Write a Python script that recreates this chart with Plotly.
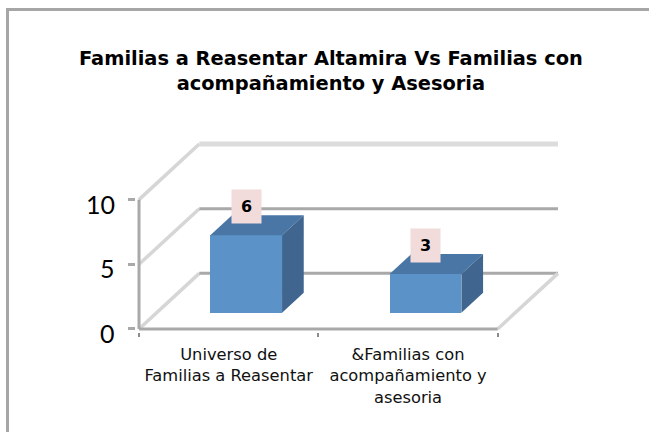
import plotly.graph_objects as go

categories = ["Universo de<br>Familias a Reasentar", "&Familias con<br>acompañamiento y<br>asesoria"]
values = [6, 3]
y_ticks = [0, 5, 10]
title_text = "<b>Familias a Reasentar Altamira Vs Familias con<br>acompañamiento y Asesoria</b>"

W, H = 649, 432
PAD = 3
L, R, T, B = 139 - PAD, 558 + PAD, 144 - PAD, 329 + PAD
UX = 178.5   # pixels per category
UY = 12.9    # pixels per value unit
DEPTH_X = 60 / UX
DEPTH_Y = 55.5 / UY
PX, PY = PAD / UX, PAD / UY
BAR_W = 0.4
D0, D1 = 0.29, 0.65
N = len(categories)
GRID = "#a9a9a9"
LIGHT = "#d6d6d6"

fig = go.Figure()

def line(xs, ys, color, width):
    fig.add_trace(go.Scatter(x=xs, y=ys, mode="lines", line=dict(color=color, width=width),
                             hoverinfo="skip", showlegend=False))

def poly(xs, ys, color):
    fig.add_trace(go.Scatter(x=xs + xs[:1], y=ys + ys[:1], mode="lines", fill="toself", fillcolor=color,
                             line=dict(width=0), hoverinfo="skip", showlegend=False, xaxis="x2", yaxis="y2"))

top = y_ticks[-1]
for v in y_ticks:
    line([0, DEPTH_X], [v, v + DEPTH_Y], LIGHT, 3.5)
for v in y_ticks:
    line([DEPTH_X, N + DEPTH_X], [v + DEPTH_Y] * 2, "#dcdcdc" if v == top else GRID, 5 if v == top else 3)
line([N, N + DEPTH_X], [0, DEPTH_Y], LIGHT, 3.5)
line([0, 0], [0, top], GRID, 3)
line([0, N], [0, 0], GRID, 3)

for i, v in enumerate(values):
    c = i + 0.5
    fx0 = c - BAR_W / 2 + D0 * DEPTH_X
    fx1 = c + BAR_W / 2 + D0 * DEPTH_X
    base = D0 * DEPTH_Y
    dx = (D1 - D0) * DEPTH_X
    dy = (D1 - D0) * DEPTH_Y
    poly([fx0, fx1, fx1 + dx, fx0 + dx], [base + v, base + v, base + v + dy, base + v + dy], "#4a76a6")
    poly([fx1, fx1 + dx, fx1 + dx, fx1], [base, base + dy, base + v + dy, base + v], "#40668f")

fig.add_trace(go.Bar(x=[i + 0.5 + D0 * DEPTH_X for i in range(N)], y=values,
                     base=[D0 * DEPTH_Y] * N, width=BAR_W, marker=dict(color="#5b93c8", line=dict(width=0)),
                     hoverinfo="skip", showlegend=False, xaxis="x2", yaxis="y2"))

annotations = [dict(x=i + 0.5 + D0 * DEPTH_X, y=v + D0 * DEPTH_Y, xref="x2", yref="y2", text=f"<b>{v}</b>",
                    showarrow=False, yshift=29, bgcolor="#f2dcdb", width=27, height=31,
                    font=dict(family="DejaVu Sans", size=16, color="black"))
               for i, v in enumerate(values)]
annotations.append(dict(x=(331 - L) / (R - L), y=(B - 71) / (B - T), xref="paper", yref="paper",
                        text=title_text, showarrow=False, yanchor="middle", xanchor="center",
                        font=dict(family="DejaVu Sans", size=19.4, color="black")))
# y tick labels sit a few pixels below their ticks, as in the reference
annotations += [dict(x=(117 - L) / (R - L), y=v, xref="paper", yref="y", text=str(v), showarrow=False,
                     xanchor="right", yanchor="middle", yshift=-4,
                     font=dict(family="Lato", size=25, color="black")) for v in y_ticks]

xrange = [-PX, N + DEPTH_X + PX]
yrange = [-PY, top + DEPTH_Y + PY]
fig.update_layout(
    width=W, height=H, autosize=False, showlegend=False,
    margin=dict(l=L, r=W - R, t=T, b=H - B, pad=0),
    paper_bgcolor="white", plot_bgcolor="rgba(0,0,0,0)",
    xaxis=dict(range=xrange, tickvals=[i + 0.5 for i in range(N)], ticktext=categories,
               ticklen=0, showgrid=False, zeroline=False, showline=False, tickangle=0, ticklabelstandoff=11,
               tickfont=dict(family="DejaVu Sans", size=16.3, color="#111"),
               minor=dict(tickvals=list(range(N + 1)), ticklen=4, ticks="outside", tickcolor="#8c8c8c", tickwidth=1.5, showgrid=False)),
    yaxis=dict(range=yrange, tickvals=y_ticks, ticktext=["", "", ""], ticks="outside", ticklen=7, tickwidth=2.5,
               tickcolor=GRID, showgrid=False, zeroline=False, showline=False),
    xaxis2=dict(range=xrange, overlaying="x", visible=False),
    yaxis2=dict(range=yrange, overlaying="y", visible=False),
    annotations=annotations, bargap=0,
    shapes=[dict(type="path", xref="paper", yref="paper",
                 path=f"M {(7.5 - L) / (R - L)} {(B - 440) / (B - T)} L {(7.5 - L) / (R - L)} {(B - 9.5) / (B - T)} L {(660 - L) / (R - L)} {(B - 9.5) / (B - T)}",
                 line=dict(color="#a6a6a6", width=3), fillcolor="rgba(0,0,0,0)", layer="below")],
)

fig.write_html("out.html", config={"displayModeBar": False}, post_script="document.body.style.margin='0';")
